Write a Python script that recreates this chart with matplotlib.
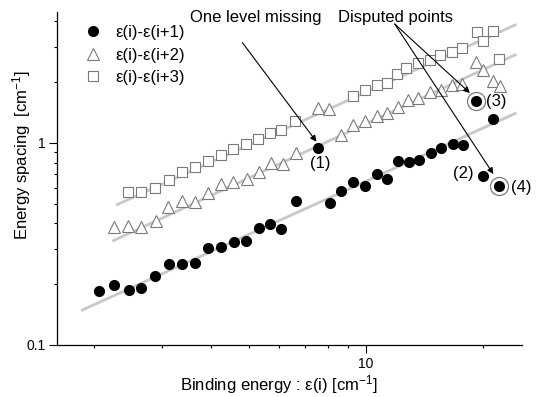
import matplotlib
matplotlib.use('Agg')
import matplotlib.pyplot as plt

plt.rcParams['font.family'] = ['Liberation Sans', 'DejaVu Sans']
plt.rcParams['mathtext.fontset'] = 'custom'
plt.rcParams['mathtext.rm'] = 'Liberation Sans'
plt.rcParams['mathtext.it'] = 'Liberation Sans:italic'

# --- data (log-log) ---
# eps(i)-eps(i+1), filled circles
k1_x = [2.06, 2.26, 2.46, 2.64, 2.87, 3.13, 3.38, 3.64, 3.93, 4.26, 4.58, 4.92, 5.31,
        5.69, 6.07, 6.60, 7.54, 8.08, 8.66, 9.28, 9.94, 10.66, 11.31, 12.11, 12.92,
        13.71, 14.67, 15.65, 16.71, 17.73, 19.95, 21.17]
k1_y = [0.186, 0.198, 0.187, 0.191, 0.219, 0.252, 0.252, 0.254, 0.301, 0.307, 0.325,
        0.328, 0.378, 0.397, 0.375, 0.515, 0.948, 0.505, 0.579, 0.644, 0.613, 0.700,
        0.663, 0.814, 0.803, 0.824, 0.895, 0.941, 0.989, 0.978, 0.689, 1.31]
# the two circled (disputed) points
disp_x = [19.18, 21.98]
disp_y = [1.614, 0.615]

# eps(i)-eps(i+2), open triangles
k2_x = [2.26, 2.45, 2.65, 2.89, 3.10, 3.38, 3.64, 3.93, 4.24, 4.56, 4.94, 5.32, 5.72,
        6.13, 6.61, 7.54, 8.03, 8.66, 9.28, 9.94, 10.66, 11.36, 12.11, 12.85, 13.63,
        14.61, 15.65, 16.61, 17.62, 19.18, 19.99, 21.21, 22.07]
k2_y = [0.385, 0.388, 0.382, 0.412, 0.481, 0.516, 0.512, 0.564, 0.623, 0.641, 0.661,
        0.721, 0.793, 0.787, 0.897, 1.485, 1.473, 1.096, 1.232, 1.285, 1.361, 1.408,
        1.502, 1.633, 1.665, 1.795, 1.830, 1.937, 1.953, 2.518, 2.298, 2.027, 1.915]

# eps(i)-eps(i+3), open squares
k3_x = [2.45, 2.65, 2.87, 3.12, 3.38, 3.64, 3.94, 4.26, 4.56, 4.92, 5.29, 5.69, 6.07,
        6.57, 9.29, 9.94, 10.66, 11.31, 12.00, 12.72, 13.63, 14.61, 15.54, 16.61,
        17.62, 19.29, 19.99, 21.21, 21.98]
k3_y = [0.572, 0.575, 0.599, 0.656, 0.718, 0.758, 0.810, 0.872, 0.929, 0.989, 1.043,
        1.117, 1.160, 1.292, 1.718, 1.830, 1.937, 1.989, 2.196, 2.343, 2.481, 2.576,
        2.727, 2.831, 2.943, 3.544, 3.199, 3.585, 2.605]

# power-law fit lines (end points)
fit1_x, fit1_y = [1.87, 24.2], [0.149, 1.40]
fit2_x, fit2_y = [2.25, 24.2], [0.329, 2.73]
fit3_x, fit3_y = [2.30, 24.2], [0.496, 3.84]

legend_labels = ['ε(i)-ε(i+1)', 'ε(i)-ε(i+2)', 'ε(i)-ε(i+3)']

GRAY = '#7a7a7a'
FIT = '#c8c8c8'

fig = plt.figure(figsize=(5.4, 3.97), dpi=100)
ax = fig.add_axes([57 / 540, 52 / 397, 465 / 540, 333 / 397])
ax.set_xscale('log')
ax.set_yscale('log')

ax.plot(fit1_x, fit1_y, '-', color=FIT, lw=2.0, zorder=1)
ax.plot(fit2_x, fit2_y, '-', color=FIT, lw=2.0, zorder=1)
ax.plot(fit3_x, fit3_y, '-', color=FIT, lw=2.0, zorder=1)

h1, = ax.plot(k1_x, k1_y, 'o', ms=7, color='black', ls='none', zorder=3)
ax.plot(disp_x, disp_y, 'o', ms=7, color='black', ls='none', zorder=3)
ax.plot(disp_x, disp_y, 'o', ms=13, mfc='none', mec=GRAY, mew=0.9, ls='none', zorder=3)
h2, = ax.plot(k2_x, k2_y, '^', ms=9, mfc='white', mec=GRAY, mew=0.8, ls='none', zorder=2)
h3, = ax.plot(k3_x, k3_y, 's', ms=7, mfc='white', mec=GRAY, mew=0.8, ls='none', zorder=2)

ax.set_xlim(1.61, 25.2)
ax.set_ylim(0.1, 4.45)

# annotations
arrow = dict(arrowstyle='-|>', color='black', lw=0.8, mutation_scale=9,
             shrinkA=0, shrinkB=0)
ax.text(5.21, 4.16, 'One level missing', fontsize=12, ha='center', va='center')
ax.text(11.94, 4.16, 'Disputed points', fontsize=12, ha='center', va='center')
ax.annotate('', xy=(7.47, 1.015), xytext=(4.82, 3.14), arrowprops=arrow)
ax.annotate('', xy=(18.51, 1.768), xytext=(11.87, 3.88), arrowprops=arrow)
ax.annotate('', xy=(21.27, 0.702), xytext=(11.87, 3.88), arrowprops=arrow)
ax.text(7.62, 0.793, '(1)', fontsize=12, ha='center', va='center')
ax.text(17.79, 0.708, '(2)', fontsize=12, ha='center', va='center')
ax.text(21.68, 1.601, '(3)', fontsize=12, ha='center', va='center')
ax.text(25.14, 0.60, '(4)', fontsize=12, ha='center', va='center')

ax.legend([h1, h2, h3], legend_labels, loc='upper left', bbox_to_anchor=(0.06, 0.96),
          frameon=False, fontsize=12, handlelength=1.0, handletextpad=0.8,
          labelspacing=0.45, borderpad=0, borderaxespad=0, numpoints=1)

# axes styling
for s in ['top', 'right']:
    ax.spines[s].set_visible(False)
for s in ['left', 'bottom']:
    ax.spines[s].set_linewidth(0.9)
ax.set_xticks([10])
ax.set_xticklabels(['10'])
ax.set_xticks([2, 3, 4, 5, 6, 7, 8, 9, 20], minor=True)
ax.xaxis.set_minor_formatter(matplotlib.ticker.NullFormatter())
ax.set_yticks([0.1, 1])
ax.set_yticklabels(['0.1', '1'])
ax.set_yticks([0.2, 0.3, 0.4, 0.5, 0.6, 0.7, 0.8, 0.9, 2, 3, 4], minor=True)
ax.yaxis.set_minor_formatter(matplotlib.ticker.NullFormatter())
ax.tick_params(which='major', direction='out', length=5.5, width=0.8, labelsize=10, pad=3)
ax.tick_params(which='minor', direction='out', length=2.5, width=0.8)

ax.set_xlabel('Binding energy : ε(i) [cm$^{-1}$]', fontsize=12)
ax.set_ylabel('Energy spacing  [cm$^{-1}$]', fontsize=12)
ax.xaxis.set_label_coords(0.477, -0.085)
ax.yaxis.set_label_coords(-0.052, 0.571)

fig.savefig('out.png', dpi=100)
